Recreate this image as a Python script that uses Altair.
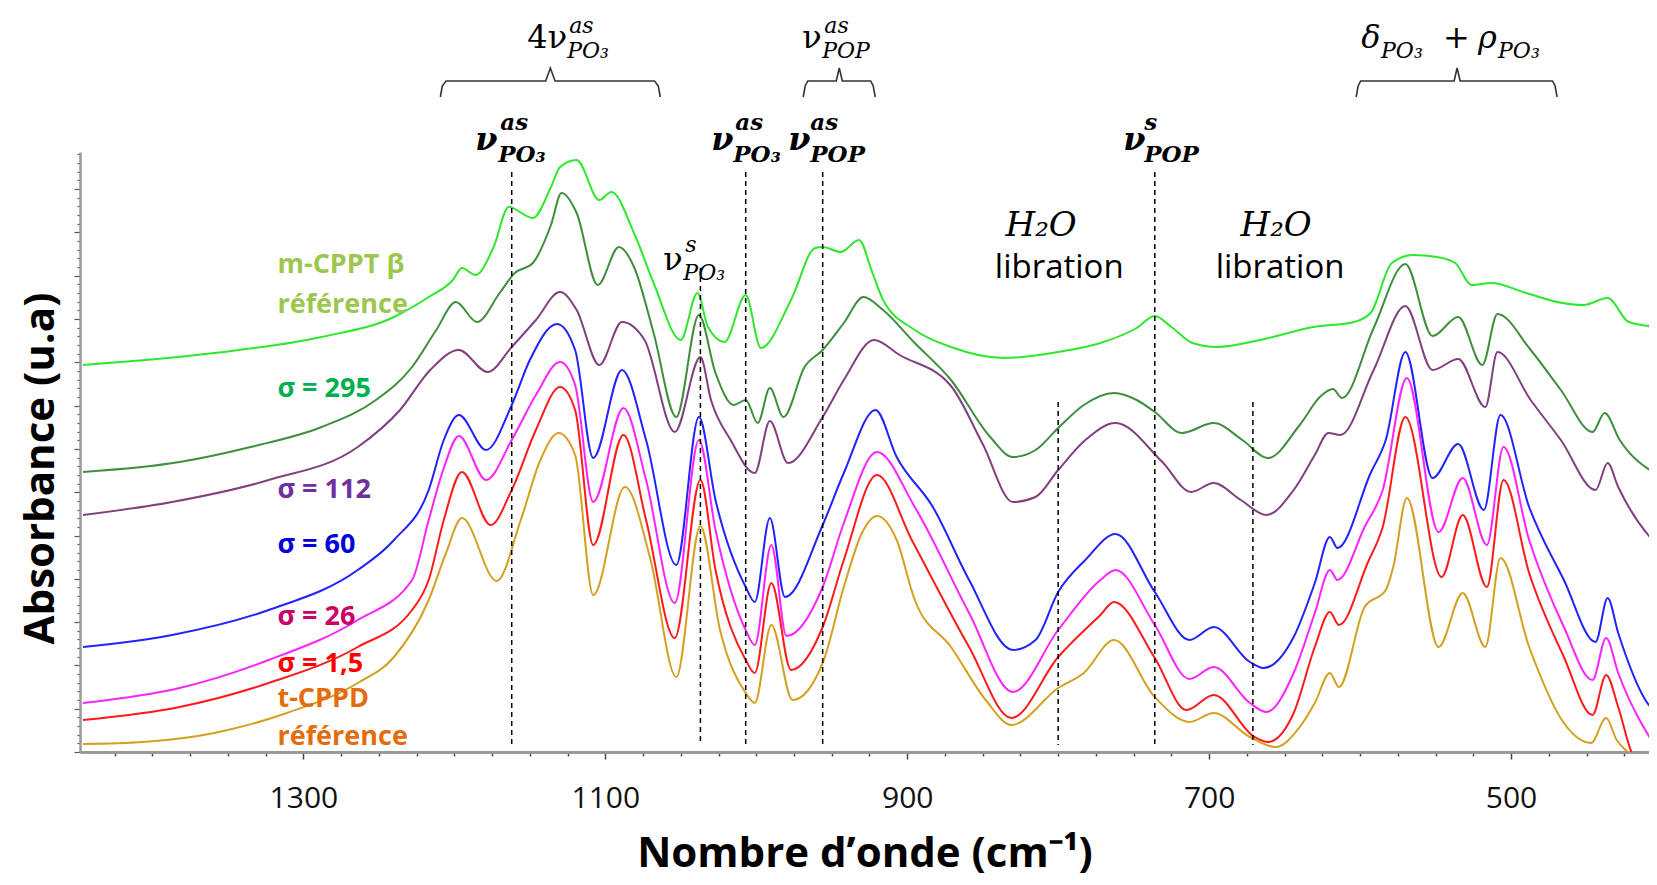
import altair as alt
import pandas as pd

# ---------------- spectra (wavenumber cm-1, absorbance u.a.) ----------------
series_names = ["m-CPPT β", "σ = 295", "σ = 112", "σ = 60", "σ = 26", "σ = 1,5", "t-CPPD"]
line_colors = ["#2EE82E", "#3E8E3E", "#804080", "#2222FF", "#FF22FF", "#FF1A1A", "#D4A020"]

wn_mcppt = [1446,1359,1288,1240,1217,1201,1195,1186,1174,1164,1148,1136,1130,1119,1104,1096,1081,1068,1050,1039,
            1032,1021,1007,997,977,961,956,944,932,923,916,895,871,836,800,772,748,736,725,711,
            695,666,631,604,593,579,565,549,537,526,513,490,466,452,436,422,403]
ab_mcppt = [3.87,3.99,4.15,4.35,4.55,4.72,4.84,4.77,5.05,5.45,5.34,5.65,5.85,5.92,5.52,5.60,5.19,4.69,4.12,4.59,
            4.25,4.10,4.57,4.04,4.52,5.04,5.05,5.00,5.12,4.79,4.52,4.22,4.05,3.94,4.00,4.09,4.24,4.36,4.25,4.09,
            4.05,4.12,4.25,4.30,4.39,4.89,4.97,4.95,4.89,4.67,4.69,4.59,4.49,4.47,4.54,4.30,4.25]

wn_s295 = [1446,1382,1335,1288,1252,1228,1212,1199,1185,1170,1160,1148,1136,1129,1119,1105,1091,1081,1068,1053,
           1038,1027,1015,1007,999,991,982,968,956,942,929,916,895,871,845,830,815,800,783,763,
           748,736,718,697,678,661,640,626,618,612,591,570,552,535,519,509,487,467,446,438,428,403]
ab_s295 = [2.80,2.90,3.05,3.25,3.52,3.85,4.22,4.50,4.30,4.59,4.79,4.89,5.27,5.59,5.39,4.67,5.05,4.85,4.19,3.35,
           4.37,3.79,3.47,3.52,3.29,3.64,3.35,3.85,4.02,4.29,4.55,4.42,4.09,3.72,3.15,2.95,3.02,3.24,3.47,3.59,
           3.52,3.40,3.19,3.29,3.12,2.94,3.27,3.56,3.63,3.54,4.24,4.88,4.16,4.35,3.87,4.38,4.02,3.62,3.20,3.39,3.12,2.77]

wn_s112 = [1446,1387,1323,1264,1236,1216,1197,1178,1162,1146,1130,1119,1104,1089,1074,1054,1037,1030,1017,1001,
           991,979,956,942,922,905,871,850,830,815,800,782,762,731,712,697,679,662,644,630,
           621,613,591,570,552,535,517,509,487,467,444,436,429,408,403]
ab_s112 = [2.37,2.50,2.72,3.05,3.42,3.82,4.02,3.80,4.05,4.32,4.60,4.42,3.87,4.30,4.12,3.20,3.95,3.52,3.12,2.79,
           3.31,2.89,3.35,3.72,4.12,3.97,3.66,3.08,2.50,2.55,2.82,3.12,3.29,2.90,2.60,2.69,2.52,2.37,2.62,2.97,
           3.19,3.17,3.82,4.46,3.82,3.93,3.45,4.00,3.52,3.12,2.62,2.89,2.65,2.15,2.07]

wn_s60 = [1446,1387,1323,1264,1240,1217,1207,1197,1179,1162,1150,1132,1120,1108,1089,1073,1053,1038,1027,1007,
          1001,991,981,956,942,921,907,883,859,830,815,800,782,762,736,713,697,673,664,644,
          630,620,615,593,583,570,552,535,518,507,488,465,444,436,429,411,403]
ab_s60 = [1.05,1.17,1.42,1.82,2.12,2.62,3.12,3.37,3.02,3.47,3.92,4.28,4.02,2.94,3.82,3.12,1.87,3.35,2.52,1.65,
          1.50,2.34,1.55,2.27,2.79,3.42,2.95,2.45,1.72,1.02,1.12,1.60,1.92,2.18,1.60,1.12,1.25,0.90,0.84,1.15,
          1.69,2.15,2.04,2.79,3.12,4.00,2.74,3.08,2.42,3.37,2.45,1.72,1.10,1.54,1.19,0.52,0.37]

wn_s26 = [1446,1382,1323,1264,1228,1217,1207,1197,1179,1162,1146,1130,1120,1108,1088,1073,1054,1038,1027,1007,
          1001,990,980,956,942,920,895,859,830,800,772,762,736,713,697,673,662,644,630,620,
          615,597,585,569,548,532,516,505,488,465,446,437,429,403]
ab_s26 = [0.49,0.64,0.92,1.32,1.72,2.32,2.84,3.16,2.72,3.12,3.57,3.90,3.67,2.50,3.44,2.72,1.49,3.12,2.22,1.22,
          1.07,2.07,1.16,1.65,2.29,3.00,2.45,1.39,0.60,1.22,1.72,1.82,1.27,0.73,0.85,0.49,0.40,0.79,1.39,1.82,
          1.72,2.25,2.62,3.74,2.20,2.74,2.07,3.05,2.12,1.25,0.72,1.14,0.79,0.02]

wn_s15 = [1446,1382,1323,1264,1228,1217,1207,1195,1176,1162,1146,1130,1120,1108,1088,1073,1054,1037,1027,1007,
          1001,990,977,956,942,920,897,859,831,800,772,763,736,715,697,670,661,644,630,620,
          614,595,585,570,546,532,516,505,488,465,446,437,429,420,403]
ab_s15 = [0.32,0.45,0.69,1.05,1.42,1.72,2.32,2.80,2.27,2.62,3.22,3.65,3.42,2.07,3.17,2.32,1.14,2.72,1.82,0.92,
          0.79,1.69,0.82,1.25,1.92,2.77,2.12,1.05,0.34,0.95,1.37,1.50,0.94,0.42,0.57,0.15,0.10,0.39,1.05,1.40,
          1.27,1.89,2.25,3.35,1.75,2.37,1.65,2.72,1.79,0.95,0.37,0.77,0.45,-0.01,-0.30]

wn_tcppd = [1446,1406,1359,1311,1264,1240,1217,1206,1195,1172,1156,1143,1131,1120,1108,1087,1070,1053,1037,1024,
            1007,1001,990,976,956,942,930,920,907,895,871,848,831,800,783,763,736,713,697,673,
            656,640,630,620,614,597,583,578,569,548,532,517,507,488,465,447,437,430,422,403]
ab_tcppd = [0.08,0.10,0.19,0.39,0.69,0.95,1.52,1.97,2.34,1.71,2.32,2.92,3.19,2.97,1.57,2.65,1.92,0.75,2.26,1.22,
            0.59,0.49,1.27,0.52,0.89,1.65,2.19,2.36,2.12,1.52,1.05,0.52,0.27,0.64,0.79,1.12,0.55,0.30,0.39,0.15,
            0.05,0.25,0.49,0.79,0.65,1.45,1.62,1.85,2.54,1.05,1.59,1.05,1.94,1.05,0.29,0.09,0.34,0.12,-0.01,-0.38]

# ---------------- annotations ----------------
dash_wn = [1162, 1037, 1007, 956, 800, 736, 671]
dash_top = [5.80, 4.84, 5.80, 5.80, 3.50, 5.80, 3.50]
dash_bottom = [0.07, 0.07, 0.07, 0.07, 0.07, 0.07, 0.07]

bracket_id = ["a"] * 9 + ["b"] * 9 + ["c"] * 9
bracket_wn = [1209.3, 1208.0, 1205.5, 1139.5, 1136.4, 1133.3, 1067.4, 1064.9, 1063.6,
              968.9, 967.6, 965.9, 947.0, 945.0, 943.0, 924.2, 922.5, 921.2,
              602.6, 601.3, 599.6, 537.7, 535.7, 533.7, 472.5, 470.8, 469.5]
bracket_ab = [6.55, 6.66, 6.71, 6.71, 6.84, 6.71, 6.71, 6.66, 6.55] * 3

up_text = ["4ν", "ν", "+", "ν"]
up_wn = [1151.7, 969.5, 545.0, 1061.6]
up_ab = [7.04, 7.04, 7.04, 4.82]

it_text = ["δ", "ρ"]
it_wn = [599.3, 521.8]
it_ab = [7.04, 7.04]

scr_text = ["as", "as", "s", "PO₃", "POP", "PO₃", "PO₃", "PO₃"]
scr_wn = [1123.9, 954.9, 1047.0, 1125.2, 956.3, 586.1, 508.6, 1048.3]
scr_ab = [7.19, 7.19, 5.00, 6.94, 6.94, 6.94, 6.94, 4.72]

bold_text = ["ν", "ν", "ν", "ν"]
bold_wn = [1186.1, 1029.8, 978.8, 756.9]
bold_ab = [6.02, 6.02, 6.02, 6.02]

bscr_text = ["as", "as", "as", "s", "PO₃", "PO₃", "POP", "POP"]
bscr_wn = [1169.6, 1013.9, 964.2, 743.0, 1170.9, 1015.2, 964.2, 743.0]
bscr_ab = [6.22, 6.22, 6.22, 6.22, 5.90, 5.90, 5.90, 5.90]

h2o_text = ["H₂O", "H₂O"]
h2o_wn = [811.3, 655.6]
h2o_ab = [5.16, 5.16]

lib_text = ["libration", "libration"]
lib_wn = [799.3, 653.0]
lib_ab = [4.74, 4.74]

lab_text = ["m-CPPT β", "référence", "σ = 295", "σ = 112", "σ = 60", "σ = 26", "σ = 1,5", "t-CPPD", "référence"]
lab_ab = [4.79, 4.39, 3.55, 2.54, 1.99, 1.27, 0.80, 0.45, 0.07]
lab_wn = [1317.2] * 9
lab_color = ["#9CC74F", "#9CC74F", "#00B050", "#7030A0", "#0000DD", "#CC0066", "#FF0000", "#E46C0A", "#E46C0A"]

x_tick_values = [1425, 1400, 1375, 1350, 1325, 1300, 1275, 1250, 1225, 1200, 1175, 1150, 1125, 1100,
                 1075, 1050, 1025, 1000, 975, 950, 925, 900, 875, 850, 825, 800, 775, 750, 725, 700,
                 675, 650, 625, 600, 575, 550, 525, 500, 475, 450, 425]
y_tick_values = [round(i * 0.0866, 4) for i in range(70)]

# ---------------- build tables ----------------
all_wn = [wn_mcppt, wn_s295, wn_s112, wn_s60, wn_s26, wn_s15, wn_tcppd]
all_ab = [ab_mcppt, ab_s295, ab_s112, ab_s60, ab_s26, ab_s15, ab_tcppd]
rows = []
for name, wl, al in zip(series_names, all_wn, all_ab):
    for w, a in zip(wl, al):
        rows.append({"serie": name, "wn": w, "ab": a})
lines_df = pd.DataFrame(rows)

def tdf(texts, wns, abs_, colors=None):
    d = pd.DataFrame({"t": texts, "wn": wns, "ab": abs_})
    if colors is not None:
        d["col"] = colors
    return d

xs = alt.Scale(domain=[1448, 408.6], nice=False, zero=False)
ys = alt.Scale(domain=[0, 6], nice=False, zero=False)

x_axis = alt.Axis(
    values=x_tick_values, format="d",
    labelExpr="datum.value % 200 == 100 ? datum.label : ''",
    labelFont="Open Sans", labelFontSize=30, labelColor="#111111", labelPadding=24,
    labelOverlap=False, labelFlush=False,
    tickSize=alt.condition("datum.value % 200 == 100", alt.value(7), alt.value(4)),
    tickColor="#444444", tickWidth=1.5,
    domainColor="#9a9a9a", domainWidth=3, grid=False,
    title="Nombre d’onde (cm⁻¹)", titleFont="Open Sans", titleFontSize=42,
    titleFontWeight="bold", titleColor="#000000", titleY=114, titleBaseline="alphabetic",
)
y_axis = alt.Axis(
    values=y_tick_values, labels=False,
    tickSize=alt.condition("abs(datum.value/0.433 - round(datum.value/0.433)) < 0.01", alt.value(6), alt.value(3)),
    tickColor="#555555", tickWidth=1.2,
    domainColor="#9a9a9a", domainWidth=2.5, grid=False,
    title="Absorbance (u.a)", titleFont="Open Sans", titleFontSize=42, titleFontWeight="bold",
    titleColor="#000000", titleAngle=270, titleX=-40, titleY=316,
    titleBaseline="middle", titleAlign="center",
)

X = alt.X("wn:Q", scale=xs, axis=x_axis)
Y = alt.Y("ab:Q", scale=ys, axis=y_axis)

lines = alt.Chart(lines_df).mark_line(strokeWidth=2, interpolate="monotone", clip=True).encode(
    x=X, y=Y,
    color=alt.Color("serie:N", scale=alt.Scale(domain=series_names, range=line_colors), legend=None),
    order=alt.Order("wn:Q", sort="descending"),
)

dash_df = pd.DataFrame({"wn": dash_wn, "ab": dash_top, "ab2": dash_bottom})
dashes = alt.Chart(dash_df).mark_rule(color="#000000", strokeWidth=1.5, strokeDash=[5, 4]).encode(
    x=X, y=Y, y2="ab2:Q"
)

br_df = pd.DataFrame({"id": bracket_id, "wn": bracket_wn, "ab": bracket_ab, "k": list(range(len(bracket_wn)))})
brackets = alt.Chart(br_df).mark_line(color="#333333", strokeWidth=1.6).encode(
    x=X, y=Y, detail="id:N", order="k:Q"
)

def text_layer(df, font, size, style="normal", weight="normal", align="left", color="#000000", colored=False):
    m = alt.Chart(df).mark_text(font=font, fontSize=size, fontStyle=style, fontWeight=weight,
                                align=align, baseline="alphabetic", color=color)
    enc = dict(x=X, y=Y, text="t:N")
    if colored:
        enc["color"] = alt.Color("col:N", scale=None)
    return m.encode(**enc)

t_up = text_layer(tdf(up_text, up_wn, up_ab), "DejaVu Serif", 32)
t_it = text_layer(tdf(it_text, it_wn, it_ab), "DejaVu Serif", 32, style="italic")
t_scr = text_layer(tdf(scr_text, scr_wn, scr_ab), "DejaVu Serif", 22, style="italic")
t_bold = text_layer(tdf(bold_text, bold_wn, bold_ab), "DejaVu Serif", 32, style="italic", weight="bold")
t_bscr = text_layer(tdf(bscr_text, bscr_wn, bscr_ab), "DejaVu Serif", 23, style="italic", weight="bold")
t_h2o = text_layer(tdf(h2o_text, h2o_wn, h2o_ab), "DejaVu Serif", 34, style="italic", align="center")
t_lib = text_layer(tdf(lib_text, lib_wn, lib_ab), "Open Sans", 33, align="center")
t_lab = text_layer(tdf(lab_text, lab_wn, lab_ab, lab_color), "Open Sans", 27, weight="bold", colored=True)

chart = alt.layer(
    lines, dashes, brackets, t_up, t_it, t_scr, t_bold, t_bscr, t_h2o, t_lib, t_lab
).properties(
    width=1569, height=600,
    autosize=alt.AutoSizeParams(type="none"),
    padding={"left": 72, "top": 144, "right": 0, "bottom": 125},
    background="#ffffff",
).configure_view(stroke=None)

chart.save("out.html", embed_options={"renderer": "svg", "actions": False})
